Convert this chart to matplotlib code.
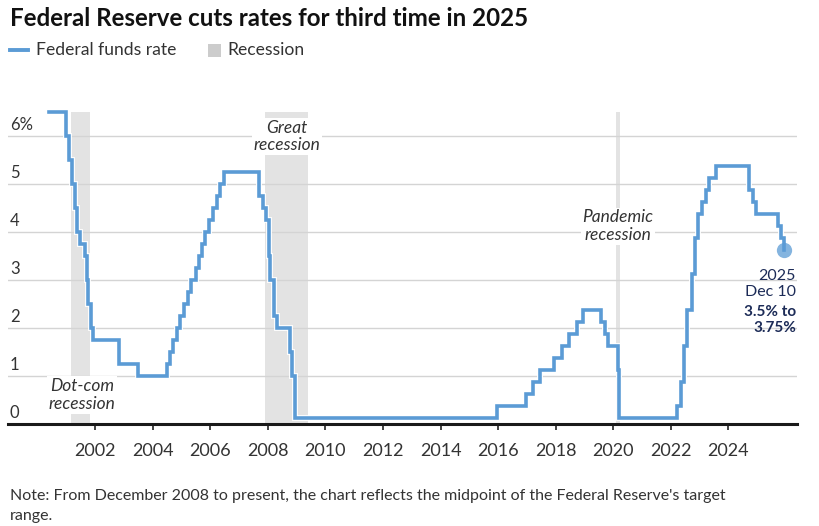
import numpy as np
import pandas as pd
import matplotlib
matplotlib.use("Agg")
import matplotlib.pyplot as plt
import matplotlib.patheffects as pe
import matplotlib.transforms as mtransforms

plt.rcParams['font.family'] = ['Lato', 'DejaVu Sans']

# fed funds target (midpoint of range from Dec 2008)
change_dates = [
    "2000-06-01", "2001-01-03", "2001-01-31", "2001-03-20", "2001-04-18", "2001-05-15",
    "2001-06-27", "2001-08-21", "2001-09-17", "2001-10-02", "2001-11-06", "2001-12-11",
    "2002-11-06", "2003-06-25", "2004-06-30", "2004-08-10", "2004-09-21", "2004-11-10",
    "2004-12-14", "2005-02-02", "2005-03-22", "2005-05-03", "2005-06-30", "2005-08-09",
    "2005-09-20", "2005-11-01", "2005-12-13", "2006-01-31", "2006-03-28", "2006-05-10",
    "2006-06-29", "2007-09-18", "2007-10-31", "2007-12-11", "2008-01-22", "2008-01-30",
    "2008-03-18", "2008-04-30", "2008-10-08", "2008-10-29", "2008-12-16", "2015-12-16",
    "2016-12-14", "2017-03-15", "2017-06-14", "2017-12-13", "2018-03-21", "2018-06-13",
    "2018-09-26", "2018-12-19", "2019-07-31", "2019-09-18", "2019-10-30", "2020-03-03",
    "2020-03-15", "2022-03-16", "2022-05-04", "2022-06-15", "2022-07-27", "2022-09-21",
    "2022-11-02", "2022-12-14", "2023-02-01", "2023-03-22", "2023-05-03", "2023-07-26",
    "2024-09-18", "2024-11-07", "2024-12-18", "2025-09-17", "2025-10-29", "2025-12-10",
]
rates = [
    6.5, 6.0, 5.5, 5.0, 4.5, 4.0,
    3.75, 3.5, 3.0, 2.5, 2.0, 1.75,
    1.25, 1.0, 1.25, 1.5, 1.75, 2.0,
    2.25, 2.5, 2.75, 3.0, 3.25, 3.5,
    3.75, 4.0, 4.25, 4.5, 4.75, 5.0,
    5.25, 4.75, 4.5, 4.25, 3.5, 3.0,
    2.25, 2.0, 1.5, 1.0, 0.125, 0.375,
    0.625, 0.875, 1.125, 1.375, 1.625, 1.875,
    2.125, 2.375, 2.125, 1.875, 1.625, 1.125,
    0.125, 0.375, 0.875, 1.625, 2.375, 3.125,
    3.875, 4.375, 4.625, 4.875, 5.125, 5.375,
    4.875, 4.625, 4.375, 4.125, 3.875, 3.625,
]

recessions = [
    ("2001-03-01", "2001-11-01", "Dot-com\nrecession"),
    ("2007-12-01", "2009-06-01", "Great\nrecession"),
    ("2020-02-01", "2020-04-01", "Pandemic\nrecession"),
]
# label anchor (date, value) for each recession text
rec_label_pos = [("2001-07-20", 0.6), ("2008-09-01", 5.99), ("2020-03-01", 4.12)]

year_ticks = list(range(2002, 2025, 2))
y_ticks = [1, 2, 3, 4, 5, 6]

BLUE = "#5b9bd5"
NAVY = "#1c2b57"
TXT = "#333333"

dates = pd.to_datetime(change_dates)

fig = plt.figure(figsize=(8.19, 5.26), dpi=100)
W, H = 819, 526
ax = fig.add_axes([8 / W, 1 - 424 / H, 789 / W, 324 / H])
ymax = 6.75
ax.set_ylim(0, ymax)
ax.set_xlim(pd.Timestamp("1998-12-24"), pd.Timestamp("2026-05-20"))

for s, e, _ in recessions:
    ax.axvspan(pd.Timestamp(s), pd.Timestamp(e), ymin=0, ymax=6.5 / ymax,
               color="#e3e3e3", lw=0, zorder=1)

for v in y_ticks:
    ax.axhline(v, color="#d4d4d4", lw=1.0, zorder=2)

ax.step(dates, rates, where="post", color=BLUE, lw=2.6, zorder=4,
        solid_joinstyle="miter",
        path_effects=[pe.Stroke(linewidth=4.2, foreground="white"), pe.Normal()])
ax.plot(dates[-1:], rates[-1:], "o", ms=11, color=BLUE, alpha=0.75, mec="none", zorder=5)

for (s, e, lab), (d, yv) in zip(recessions, rec_label_pos):
    ax.text(pd.Timestamp(d), yv, lab, ha="center", va="center", fontsize=12.5,
            style="italic", color=TXT, linespacing=1.15, zorder=3,
            bbox=dict(boxstyle="square,pad=0.1", fc="white", ec="none"))

trans = mtransforms.blended_transform_factory(ax.transAxes, ax.transData)
ax.text(2 / 789, 6 + 0.23, "6%", transform=trans, ha="left", va="center",
        fontsize=12, color=TXT)
for v in [0] + y_ticks[:-1]:
    ax.text(2 / 789, v + 0.23, str(v), transform=trans, ha="left", va="center",
            fontsize=12, color=TXT)

# end annotation
ax.text(1.0 - 1 / 789, 2.91, "2025\nDec 10", transform=trans, ha="right", va="center",
        fontsize=11.5, color=NAVY, linespacing=1.2)
ax.text(1.0 - 1 / 789, 2.16, "3.5% to\n3.75%", transform=trans, ha="right", va="center",
        fontsize=11, color=NAVY, fontweight="bold", linespacing=1.2)

ax.set_xticks([pd.Timestamp(f"{y}-01-01") for y in year_ticks])
ax.set_xticklabels([str(y) for y in year_ticks], fontsize=13, color=TXT)
ax.tick_params(axis="x", length=4, width=1.2, color="#222222", pad=10)
ax.set_yticks([])
for side in ["top", "right", "left"]:
    ax.spines[side].set_visible(False)
ax.spines["bottom"].set_linewidth(2.2)
ax.spines["bottom"].set_color("#1a1a1a")
ax.spines["bottom"].set_zorder(6)

# title and legend
fig.text(10 / W, 1 - 18 / H, "Federal Reserve cuts rates for third time in 2025",
         fontsize=17.4, fontweight="bold", color="#111111", va="center", ha="left")
fig.add_artist(plt.Line2D([10 / W, 28 / W], [1 - 50 / H, 1 - 50 / H], color=BLUE, lw=2.8))
fig.text(36 / W, 1 - 50 / H, "Federal funds rate", fontsize=12.6, color=TXT, va="center")
fig.add_artist(plt.Rectangle((208 / W, 1 - 57 / H), 13 / W, 13 / H, color="#cccccc", lw=0))
fig.text(227 / W, 1 - 50 / H, "Recession", fontsize=12.6, color=TXT, va="center")

fig.text(10 / W, 1 - 496 / H,
         "Note: From December 2008 to present, the chart reflects the midpoint of the Federal Reserve's target",
         fontsize=11.5, color=TXT, va="center")
fig.text(10 / W, 1 - 516 / H, "range.", fontsize=11.5, color=TXT, va="center")

fig.savefig("out.png", dpi=100)
